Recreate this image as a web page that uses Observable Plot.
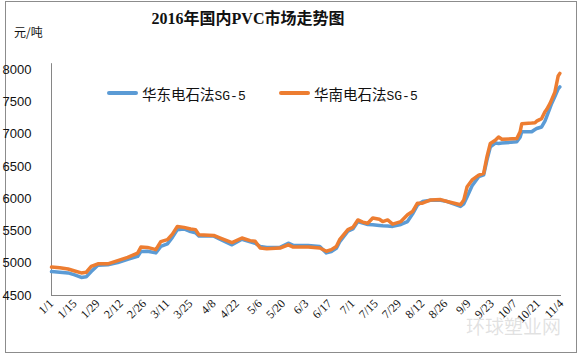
<!DOCTYPE html>
<html>
<head>
<meta charset="utf-8">
<script src="https://cdn.jsdelivr.net/npm/d3@7"></script>
<script src="https://cdn.jsdelivr.net/npm/@observablehq/plot@0.6"></script>
<style>
  html, body { margin: 0; padding: 0; background: #fff; }
  #wrap { position: relative; width: 583px; height: 360px; overflow: hidden; font-family: "Noto Sans CJK SC", sans-serif; }
  #frame { position: absolute; left: 5px; top: 1px; width: 572px; height: 352px; border: 1px solid #8c8c8c; box-sizing: border-box; }
  #title { position: absolute; left: 0; width: 496px; top: 5px; text-align: center; font-family: "Liberation Serif", "Noto Sans CJK SC", serif; font-weight: bold; font-size: 16px; color: #111; }
  #unit { position: absolute; left: 14px; top: 23px; font-size: 12px; color: #111; }
  .leg { position: absolute; top: 83px; height: 20px; font-size: 14.5px; color: #111; display: flex; align-items: center; }
  .leg .m { font-family: "Liberation Mono", monospace; font-size: 13px; }
  .sw { width: 31px; height: 3.5px; margin-right: 4px; border-radius: 2px; }
  #watermark { position: absolute; left: 466px; top: 312px; font-size: 19px; color: rgba(170,170,170,0.35); }
  svg { position: absolute; left: 0; top: 0; }
</style>
</head>
<body>
<div id="wrap">
  <div id="frame"></div>
  <div id="title">2016年国内PVC市场走势图</div>
  <div id="unit">元/吨</div>
  <div id="legend"></div>
  <div id="watermark">环球塑业网</div>
</div>
<script>
// Dates (2016, month/day)
const dates = ["1/1","1/6","1/11","1/15","1/19","1/22","1/25","1/29","2/4","2/10","2/16","2/22","2/24","2/28","3/4","3/7","3/11","3/14","3/17","3/21","3/25","3/28","3/30","4/8","4/12","4/19","4/25","4/30","5/3","5/6","5/10","5/18","5/23","5/26","6/4","6/11","6/15","6/18","6/21","6/23","6/28","7/1","7/4","7/7","7/10","7/13","7/17","7/19","7/22","7/25","7/30","8/3","8/6","8/9","8/12","8/17","8/23","8/27","9/4","9/6","9/8","9/11","9/15","9/18","9/20","9/22","9/25","9/27","9/29","10/8","10/10","10/11","10/17","10/19","10/20","10/23","10/25","10/26","10/28","10/29","10/31","11/2","11/3"];
// 华东电石法SG-5
const huadong = [4870,4860,4850,4820,4780,4790,4870,4970,4975,5010,5060,5105,5180,5185,5160,5260,5300,5400,5520,5530,5490,5470,5420,5420,5370,5285,5370,5330,5310,5260,5245,5245,5310,5275,5275,5260,5160,5180,5230,5330,5495,5530,5645,5620,5600,5595,5585,5580,5575,5570,5600,5645,5760,5900,5955,5975,5975,5955,5880,5920,6030,6200,6340,6370,6600,6800,6860,6855,6860,6880,6950,7035,7035,7070,7086,7110,7200,7265,7400,7470,7580,7700,7730];
// 华南电石法SG-5
const huanan = [4940,4930,4910,4880,4850,4860,4950,4990,4990,5040,5090,5155,5250,5245,5210,5335,5365,5450,5570,5555,5530,5520,5440,5430,5390,5320,5390,5350,5340,5235,5225,5235,5285,5250,5250,5235,5185,5210,5260,5365,5520,5555,5670,5635,5620,5700,5680,5645,5670,5605,5645,5750,5800,5930,5930,5980,5985,5955,5905,5980,6185,6290,6365,6390,6650,6855,6905,6955,6920,6930,7035,7160,7170,7175,7200,7240,7345,7380,7470,7530,7650,7900,7940];
const tickLabels = ["1/1","1/15","1/29","2/12","2/26","3/11","3/25","4/8","4/22","5/6","5/20","6/3","6/17","7/1","7/15","7/29","8/12","8/26","9/9","9/23","10/7","10/21","11/4"];
const yTicks = [4500,5000,5500,6000,6500,7000,7500,8000];
const seriesNames = ["华东电石法SG-5","华南电石法SG-5"];
const colors = ["#5B9BD5","#ED7D31"];

const parse = s => { const [m, d] = s.split("/").map(Number); return new Date(Date.UTC(2016, m - 1, d)); };
const tickDates = tickLabels.map(parse);
const labelOf = new Map(tickDates.map((d, i) => [+d, tickLabels[i]]));

const rows = [];
dates.forEach((d, i) => {
  rows.push({date: parse(d), value: huadong[i], series: seriesNames[0]});
  rows.push({date: parse(d), value: huanan[i], series: seriesNames[1]});
});

const chart = Plot.plot({
  width: 583,
  height: 360,
  marginLeft: 51,
  marginRight: 22,
  marginTop: 69,
  marginBottom: 65,
  style: {background: "transparent", color: "#111"},
  x: {type: "utc", domain: [parse("1/1"), parse("11/4")]},
  y: {domain: [4500, 8000]},
  color: {domain: seriesNames, range: colors},
  marks: [
    Plot.axisY({ticks: yTicks, tickFormat: d => String(d), tickSize: 0, textAnchor: "start", dx: -40, fontSize: 13, fontFamily: "Liberation Sans, Arial, sans-serif", label: null}),
    Plot.axisX({ticks: tickDates, tickFormat: d => labelOf.get(+d), tickSize: 0, tickPadding: 6, tickRotate: -45, fontSize: 12, fontFamily: "Liberation Serif, serif", label: null}),
    Plot.ruleY([4500], {stroke: "#868686", strokeWidth: 1}),
    Plot.ruleX([parse("1/1")], {y1: 4500, y2: 8090, stroke: "#868686", strokeWidth: 1}),
    Plot.line(rows, {x: "date", y: "value", z: "series", stroke: "series", strokeWidth: 3.5, strokeLinejoin: "round", strokeLinecap: "round"})
  ]
});
document.getElementById("wrap").appendChild(chart);

// legend
const legend = document.getElementById("legend");
const legX = [107, 279];
seriesNames.forEach((name, i) => {
  const el = document.createElement("div");
  el.className = "leg";
  el.style.left = legX[i] + "px";
  el.innerHTML = `<span class="sw" style="background:${colors[i]}"></span><span>${name.slice(0, 5)}<span class="m">${name.slice(5)}</span></span>`;
  legend.appendChild(el);
});
</script>
</body>
</html>
